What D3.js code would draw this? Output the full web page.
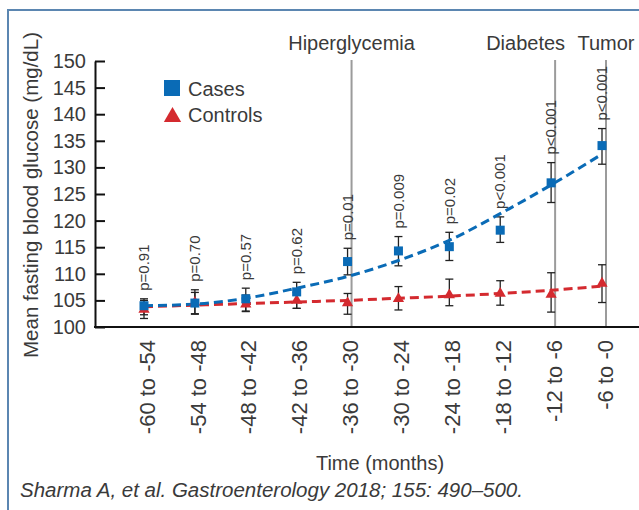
<!DOCTYPE html>
<html>
<head>
<meta charset="utf-8">
<script src="https://cdn.jsdelivr.net/npm/d3@7"></script>
<style>
  body { margin: 0; background: #fff; }
  text { font-family: "Liberation Sans", Arial, sans-serif; fill: #3a3a3a; }
</style>
</head>
<body>
<div id="chart"></div>
<script>
const categories = ["-60 to -54", "-54 to -48", "-48 to -42", "-42 to -36", "-36 to -30",
  "-30 to -24", "-24 to -18", "-18 to -12", "-12 to -6", "-6 to -0"];

const casesMean = [104.0, 104.5, 105.3, 106.6, 112.3, 114.3, 115.1, 118.2, 127.1, 134.1];
const casesLow = [102.3, 102.4, 102.9, 103.5, 109.8, 111.5, 112.5, 115.9, 123.4, 130.6];
const casesHigh = [105.3, 107.0, 107.3, 108.4, 114.8, 117.0, 117.8, 120.7, 130.9, 137.3];
const casesFit = [104.0, 104.3, 105.4, 107.3, 109.5, 112.5, 116.3, 121.3, 126.7, 132.5];

const controlsMean = [103.3, 104.6, 104.3, 105.0, 104.5, 105.3, 106.0, 106.3, 106.1, 108.2];
const controlsLow = [101.6, 102.5, 103.0, 103.5, 102.4, 103.2, 104.0, 104.1, 102.8, 104.6];
const controlsHigh = [105.0, 106.5, 106.0, 106.5, 106.3, 107.6, 109.0, 108.7, 110.2, 111.7];
const controlsFit = [103.8, 104.1, 104.4, 104.7, 105.0, 105.4, 105.8, 106.3, 106.9, 107.7];

const pValues = ["p=0.91", "p=0.70", "p=0.57", "p=0.62", "p=0.01", "p=0.009", "p=0.02",
  "p<0.001", "p<0.001", "p<0.001"];

const events = [
  { label: "Hiperglycemia", at: "-36 to -30", anchor: "middle", dx: 0 },
  { label: "Diabetes", at: "-12 to -6", anchor: "end", dx: 10 },
  { label: "Tumor", at: "-6 to -0", anchor: "middle", dx: 0 }
];

const yTicks = [100, 105, 110, 115, 120, 125, 130, 135, 140, 145, 150];

const blue = "#0a6bb6";
const red = "#d42a2f";

const width = 639, height = 510;
const svg = d3.select("#chart").append("svg")
  .attr("width", width)
  .attr("height", height);

// frame
svg.append("path")
  .attr("d", "M8,510 V10 H639")
  .attr("fill", "none")
  .attr("stroke", "#5b86b1")
  .attr("stroke-width", 2);

const x = d3.scalePoint().domain(categories).range([144, 602]);
const y = d3.scaleLinear().domain([100, 150]).range([327, 61]);

// event lines
events.forEach(e => {
  const ex = x(e.at) + 4;
  svg.append("line")
    .attr("x1", ex).attr("x2", ex)
    .attr("y1", 60).attr("y2", y(100))
    .attr("stroke", "#9b9b9b")
    .attr("stroke-width", 2);
  svg.append("text")
    .attr("x", ex + e.dx)
    .attr("y", 50)
    .attr("text-anchor", e.anchor)
    .style("font-size", "20px")
    .text(e.label);
});

// y axis
const yAxis = svg.append("g")
  .attr("transform", "translate(95,0)")
  .call(d3.axisLeft(y).tickValues(yTicks).tickSizeInner(-10).tickSizeOuter(0).tickPadding(9));
yAxis.select(".domain").attr("stroke", "#111").attr("stroke-width", 2);
yAxis.selectAll(".tick line").attr("stroke", "#111").attr("stroke-width", 2);
yAxis.selectAll(".tick text")
  .style("font-size", "20px")
  .style("font-family", "Liberation Sans, Arial, sans-serif")
  .attr("fill", "#3a3a3a");

// x axis
svg.append("line")
  .attr("x1", 94).attr("x2", 639)
  .attr("y1", y(100)).attr("y2", y(100))
  .attr("stroke", "#111")
  .attr("stroke-width", 2);

svg.append("g").selectAll("text")
  .data(categories)
  .join("text")
  .attr("transform", d => `translate(${x(d) + 3},340) rotate(-90)`)
  .attr("text-anchor", "end")
  .attr("dy", "0.35em")
  .style("font-size", "22px")
  .text(d => d);

// axis titles
svg.append("text")
  .attr("transform", `translate(38,${(32 + 358) / 2}) rotate(-90)`)
  .attr("text-anchor", "middle")
  .style("font-size", "20.5px")
  .text("Mean fasting blood glucose (mg/dL)");

svg.append("text")
  .attr("x", 380)
  .attr("y", 470)
  .attr("text-anchor", "middle")
  .style("font-size", "20px")
  .text("Time (months)");

svg.append("text")
  .attr("x", 20)
  .attr("y", 497)
  .style("font-size", "20.5px")
  .style("font-style", "italic")
  .text("Sharma A, et al. Gastroenterology 2018; 155: 490\u2013500.");

// error bars
function errorBars(low, high) {
  const g = svg.append("g").attr("stroke", "#222").attr("stroke-width", 1.3);
  categories.forEach((c, i) => {
    const cx = x(c);
    g.append("line").attr("x1", cx).attr("x2", cx).attr("y1", y(low[i])).attr("y2", y(high[i]));
    g.append("line").attr("x1", cx - 4).attr("x2", cx + 4).attr("y1", y(low[i])).attr("y2", y(low[i]));
    g.append("line").attr("x1", cx - 4).attr("x2", cx + 4).attr("y1", y(high[i])).attr("y2", y(high[i]));
  });
}
errorBars(controlsLow, controlsHigh);
errorBars(casesLow, casesHigh);

// fitted trend lines
const line = d3.line()
  .x((d, i) => x(categories[i]))
  .y(d => y(d))
  .curve(d3.curveMonotoneX);

svg.append("path")
  .datum(controlsFit)
  .attr("d", line)
  .attr("fill", "none")
  .attr("stroke", red)
  .attr("stroke-width", 3)
  .attr("stroke-dasharray", "9,5");

svg.append("path")
  .datum(casesFit)
  .attr("d", line)
  .attr("fill", "none")
  .attr("stroke", blue)
  .attr("stroke-width", 3)
  .attr("stroke-dasharray", "9,5");

// markers
const tri = d3.symbol().type(d3.symbolTriangle).size(55);
svg.append("g").selectAll("path")
  .data(controlsMean)
  .join("path")
  .attr("d", tri)
  .attr("transform", (d, i) => `translate(${x(categories[i])},${y(d)})`)
  .attr("fill", red);

svg.append("g").selectAll("rect")
  .data(casesMean)
  .join("rect")
  .attr("x", (d, i) => x(categories[i]) - 4.5)
  .attr("y", d => y(d) - 4.5)
  .attr("width", 9)
  .attr("height", 9)
  .attr("fill", blue);

// p-values
svg.append("g").selectAll("text")
  .data(pValues)
  .join("text")
  .attr("transform", (d, i) => `translate(${x(categories[i])},${y(casesHigh[i]) - 8}) rotate(-90)`)
  .attr("dy", "0.35em")
  .style("font-size", "15px")
  .text(d => d);

// legend
svg.append("rect")
  .attr("x", 164).attr("y", 80)
  .attr("width", 16).attr("height", 16)
  .attr("fill", blue);
svg.append("text")
  .attr("x", 188).attr("y", 96)
  .style("font-size", "20px")
  .text("Cases");
svg.append("path")
  .attr("d", d3.symbol().type(d3.symbolTriangle).size(130))
  .attr("transform", "translate(172.5,117)")
  .attr("fill", red);
svg.append("text")
  .attr("x", 188).attr("y", 122)
  .style("font-size", "20px")
  .text("Controls");
</script>
</body>
</html>
